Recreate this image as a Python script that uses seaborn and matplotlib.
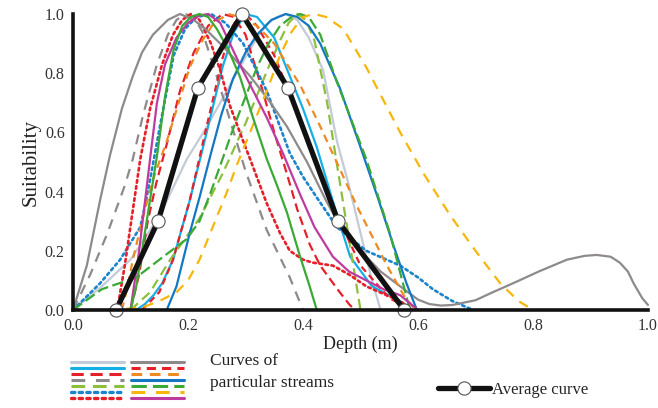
import numpy as np
import pandas as pd
import matplotlib
matplotlib.use("Agg")
import matplotlib.pyplot as plt
from matplotlib.lines import Line2D
import seaborn as sns

sns.set_style("white")
plt.rcParams["font.family"] = ["Liberation Serif", "DejaVu Serif"]

# ---------------- data ----------------
lightgrey_x = [0, 0.05, 0.10, 0.151, 0.198, 0.23, 0.256, 0.296, 0.32, 0.34, 0.355, 0.37, 0.39, 0.41, 0.435, 0.459, 0.48, 0.50, 0.52, 0.535]
lightgrey_y = [0, 0.08, 0.17, 0.32, 0.51, 0.61, 0.70, 0.84, 0.92, 0.97, 0.99, 1.0, 0.98, 0.92, 0.81, 0.57, 0.42, 0.26, 0.10, 0]

cyan_x = [0.11, 0.125, 0.14, 0.155, 0.174, 0.203, 0.23, 0.26, 0.28, 0.30, 0.32, 0.35, 0.40, 0.424, 0.45, 0.482, 0.52, 0.569, 0.59]
cyan_y = [0, 0.02, 0.05, 0.09, 0.17, 0.37, 0.58, 0.82, 0.94, 1.0, 0.99, 0.92, 0.68, 0.55, 0.38, 0.18, 0.08, 0.03, 0]

redA_x = [0.10, 0.115, 0.13, 0.145, 0.163, 0.186, 0.21, 0.235, 0.26, 0.28, 0.30, 0.33, 0.35, 0.372, 0.39, 0.412, 0.43, 0.46, 0.48, 0.49]
redA_y = [0, 0.12, 0.30, 0.43, 0.56, 0.74, 0.87, 0.96, 1.0, 0.99, 0.93, 0.74, 0.60, 0.46, 0.34, 0.22, 0.15, 0.07, 0.02, 0]

greydash_x = [0, 0.03, 0.06, 0.09, 0.104, 0.122, 0.146, 0.165, 0.18, 0.195, 0.21, 0.225, 0.25, 0.278, 0.30, 0.337, 0.377, 0.40]
greydash_y = [0, 0.12, 0.26, 0.42, 0.51, 0.66, 0.83, 0.93, 0.98, 1.0, 0.99, 0.94, 0.79, 0.61, 0.47, 0.27, 0.11, 0]

ygreen_x = [0.10, 0.134, 0.169, 0.22, 0.26, 0.30, 0.34, 0.36, 0.375, 0.39, 0.405, 0.42, 0.442, 0.46, 0.48, 0.50]
ygreen_y = [0, 0.06, 0.17, 0.31, 0.46, 0.63, 0.82, 0.91, 0.97, 1.0, 0.98, 0.91, 0.70, 0.48, 0.24, 0]

bluedot_x = [0, 0.047, 0.082, 0.117, 0.125, 0.134, 0.157, 0.175, 0.195, 0.215, 0.24, 0.265, 0.296, 0.337, 0.377, 0.40, 0.424, 0.459, 0.51, 0.569, 0.60, 0.626, 0.66, 0.696]
bluedot_y = [0, 0.09, 0.17, 0.28, 0.35, 0.44, 0.68, 0.86, 0.95, 0.99, 1.0, 0.97, 0.90, 0.74, 0.53, 0.45, 0.38, 0.28, 0.20, 0.15, 0.11, 0.07, 0.03, 0]

reddot_x = [0.077, 0.083, 0.09, 0.105, 0.117, 0.134, 0.155, 0.174, 0.19, 0.205, 0.22, 0.24, 0.256, 0.273, 0.296, 0.308, 0.337, 0.36, 0.377, 0.40, 0.417, 0.452, 0.48, 0.51, 0.569, 0.59]
reddot_y = [0, 0.07, 0.15, 0.35, 0.51, 0.68, 0.83, 0.93, 0.98, 1.0, 0.98, 0.90, 0.81, 0.69, 0.57, 0.51, 0.36, 0.26, 0.20, 0.17, 0.16, 0.15, 0.12, 0.08, 0.03, 0]

greysolid_x = [0, 0.024, 0.047, 0.064, 0.085, 0.104, 0.12, 0.139, 0.165, 0.186, 0.21, 0.23, 0.256, 0.28, 0.308, 0.34, 0.372, 0.407, 0.44, 0.46, 0.50, 0.535, 0.569, 0.60, 0.62, 0.64, 0.66, 0.70, 0.73, 0.765, 0.81, 0.859, 0.89, 0.911, 0.935, 0.951, 0.965, 0.975, 0.99, 1.0]
greysolid_y = [0, 0.15, 0.37, 0.52, 0.68, 0.79, 0.87, 0.93, 0.98, 1.0, 0.98, 0.95, 0.90, 0.85, 0.79, 0.71, 0.62, 0.50, 0.37, 0.30, 0.20, 0.13, 0.08, 0.035, 0.02, 0.015, 0.017, 0.033, 0.06, 0.09, 0.13, 0.17, 0.183, 0.186, 0.18, 0.16, 0.13, 0.09, 0.04, 0.017]

redB_x = [0.12, 0.15, 0.174, 0.203, 0.23, 0.26, 0.275, 0.29, 0.305, 0.32, 0.35, 0.40, 0.45, 0.50, 0.55, 0.59]
redB_y = [0, 0.06, 0.17, 0.37, 0.60, 0.85, 0.95, 1.0, 0.99, 0.96, 0.86, 0.62, 0.36, 0.15, 0.04, 0]

orange_x = [0.085, 0.095, 0.104, 0.12, 0.139, 0.163, 0.203, 0.225, 0.245, 0.27, 0.29, 0.32, 0.35, 0.395, 0.43, 0.494, 0.546, 0.575, 0.595]
orange_y = [0, 0.08, 0.17, 0.30, 0.44, 0.57, 0.82, 0.91, 0.97, 1.0, 0.99, 0.96, 0.90, 0.76, 0.62, 0.35, 0.15, 0.05, 0]

blue_x = [0.163, 0.18, 0.203, 0.22, 0.24, 0.258, 0.278, 0.30, 0.32, 0.345, 0.37, 0.39, 0.41, 0.43, 0.464, 0.50, 0.53, 0.557, 0.58, 0.598]
blue_y = [0, 0.08, 0.26, 0.38, 0.53, 0.66, 0.78, 0.87, 0.93, 0.98, 1.0, 0.99, 0.96, 0.90, 0.75, 0.55, 0.38, 0.22, 0.09, 0]

greendash_x = [0, 0.05, 0.11, 0.157, 0.198, 0.22, 0.24, 0.26, 0.28, 0.30, 0.32, 0.34, 0.36, 0.38, 0.395, 0.41, 0.43, 0.459, 0.51, 0.551, 0.586]
greendash_y = [0, 0.07, 0.11, 0.18, 0.24, 0.30, 0.40, 0.51, 0.62, 0.72, 0.82, 0.90, 0.96, 0.99, 1.0, 0.99, 0.93, 0.77, 0.51, 0.26, 0]

yellow_x = [0, 0.06, 0.10, 0.122, 0.15, 0.18, 0.20, 0.22, 0.243, 0.268, 0.285, 0.31, 0.337, 0.36, 0.38, 0.40, 0.42, 0.44, 0.47, 0.51, 0.569, 0.61, 0.656, 0.70, 0.743, 0.775, 0.80]
yellow_y = [0, 0, 0.005, 0.01, 0.03, 0.06, 0.10, 0.17, 0.28, 0.40, 0.49, 0.61, 0.74, 0.86, 0.94, 0.99, 1.0, 0.99, 0.95, 0.82, 0.60, 0.46, 0.32, 0.20, 0.09, 0.03, 0]

magenta_x = [0.10, 0.115, 0.134, 0.146, 0.16, 0.18, 0.20, 0.22, 0.235, 0.256, 0.29, 0.337, 0.365, 0.395, 0.42, 0.452, 0.48, 0.51, 0.54, 0.569, 0.60]
magenta_y = [0, 0.20, 0.51, 0.70, 0.83, 0.92, 0.97, 0.995, 1.0, 0.97, 0.83, 0.65, 0.53, 0.39, 0.28, 0.18, 0.13, 0.10, 0.07, 0.05, 0]

greensolid_x = [0.10, 0.11, 0.12, 0.133, 0.146, 0.16, 0.175, 0.19, 0.205, 0.22, 0.235, 0.25, 0.27, 0.29, 0.313, 0.337, 0.355, 0.372, 0.395, 0.41, 0.424]
greensolid_y = [0, 0.08, 0.20, 0.36, 0.52, 0.72, 0.88, 0.96, 0.99, 1.0, 0.99, 0.95, 0.88, 0.79, 0.65, 0.51, 0.42, 0.33, 0.18, 0.09, 0]

avg_x = [0.075, 0.148, 0.217, 0.294, 0.374, 0.461, 0.576]
avg_y = [0, 0.30, 0.75, 1.0, 0.75, 0.30, 0]

x_ticks = [0.0, 0.2, 0.4, 0.6, 0.8, 1.0]
y_ticks = [0.0, 0.2, 0.4, 0.6, 0.8, 1.0]

# ---------------- styles ----------------
GREY = "#8e8a8b"
RED = "#e5202a"
curves = [
    ("lightgrey", lightgrey_x, lightgrey_y, "#c3cbd8", None),
    ("cyan", cyan_x, cyan_y, "#16aee6", None),
    ("redA", redA_x, redA_y, RED, (4.0, 2.2)),
    ("greydash", greydash_x, greydash_y, GREY, (4.5, 3.5)),
    ("ygreen", ygreen_x, ygreen_y, "#8dbe3c", (4.5, 2.5)),
    ("bluedot", bluedot_x, bluedot_y, "#1a84cc", (1.0, 1.3)),
    ("reddot", reddot_x, reddot_y, RED, (1.0, 1.3)),
    ("greysolid", greysolid_x, greysolid_y, GREY, None),
    ("redB", redB_x, redB_y, RED, (3.0, 2.0)),
    ("orange", orange_x, orange_y, "#ef8a22", (3.5, 2.5)),
    ("blue", blue_x, blue_y, "#1477c3", None),
    ("greendash", greendash_x, greendash_y, "#3aa935", (5.0, 2.0)),
    ("yellow", yellow_x, yellow_y, "#f6b60b", (4.5, 3.5)),
    ("magenta", magenta_x, magenta_y, "#bf3a9f", None),
]
extra = [("greensolid", greensolid_x, greensolid_y, "#3aa935", None)]

fig = plt.figure(figsize=(6.58, 4.08), dpi=100)
ax = fig.add_axes([73 / 658, 1 - 310 / 408, 575 / 658, 296 / 408])

LW = 1.6
legend_handles = []
for name, xs, ys, col, dsh in curves + extra:
    df = pd.DataFrame({"x": xs, "y": ys})
    sns.lineplot(data=df, x="x", y="y", ax=ax, color=col, lw=LW, sort=False,
                 estimator=None, legend=False)
    l = ax.lines[-1]
    l.set_clip_on(False)
    l.set_solid_joinstyle("round")
    if dsh is not None:
        l.set_dashes(dsh)
        if dsh[0] <= 1.0:
            l.set_dash_capstyle("round")
            l.set_linewidth(LW * 1.2)
    if name != "greensolid":
        h = Line2D([], [], color=col, lw=2.2)
        if dsh is not None:
            h.set_dashes(dsh)
            if dsh[0] <= 1.0:
                h.set_dash_capstyle("round")
                h.set_linewidth(2.4)
        legend_handles.append(h)

avg_df = pd.DataFrame({"x": avg_x, "y": avg_y})
sns.lineplot(data=avg_df, x="x", y="y", ax=ax, color="#111111", lw=3.8, sort=False,
             estimator=None, legend=False, marker="o", markersize=9.5,
             markerfacecolor="white", markeredgecolor="#555555", markeredgewidth=0.8)
ax.lines[-1].set_clip_on(False)
ax.lines[-1].set_zorder(5)

ax.set_xlim(0, 1.0)
ax.set_ylim(0, 1.0)
ax.set_xticks(x_ticks)
ax.set_yticks(y_ticks)
ax.set_xticklabels([f"{v:.1f}" for v in x_ticks])
ax.set_yticklabels([f"{v:.1f}" for v in y_ticks])
for s in ["top", "right"]:
    ax.spines[s].set_visible(False)
for s in ["left", "bottom"]:
    ax.spines[s].set_linewidth(2.6)
    ax.spines[s].set_color("#111111")
    ax.spines[s].set_zorder(6)
ax.tick_params(axis="both", direction="out", length=3, width=2.2, color="#111111",
               labelsize=11.5, pad=3, labelcolor="#333333")
ax.set_xlabel("Depth (m)", fontsize=13, labelpad=1, color="#222222")
ax.set_ylabel("Suitability", fontsize=15, labelpad=3, color="#222222")

# legend of particular streams
leg = fig.legend(legend_handles, [""] * len(legend_handles), ncol=2, loc="upper left",
                 bbox_to_anchor=(71 / 658, 1 - 360 / 408), frameon=False, fontsize=4,
                 handlelength=9.6, handletextpad=0.0, columnspacing=1.2,
                 labelspacing=0.18, borderpad=0, borderaxespad=0)
fig.text(210 / 658, 1 - 372 / 408, "Curves of\nparticular streams", fontsize=12.5,
         ha="left", va="center", color="#222222", linespacing=1.45)

avg_handle = Line2D([], [], color="#111111", lw=3.8, marker="o", markersize=9.5,
                    markerfacecolor="white", markeredgecolor="#555555", markeredgewidth=0.8)
fig.legend([avg_handle], ["Average curve"], loc="center left",
           bbox_to_anchor=(438 / 658, 1 - 390 / 408), frameon=False, fontsize=12,
           handlelength=3.1, handletextpad=0.15, borderpad=0, borderaxespad=0)

fig.savefig("out.png", dpi=100)
